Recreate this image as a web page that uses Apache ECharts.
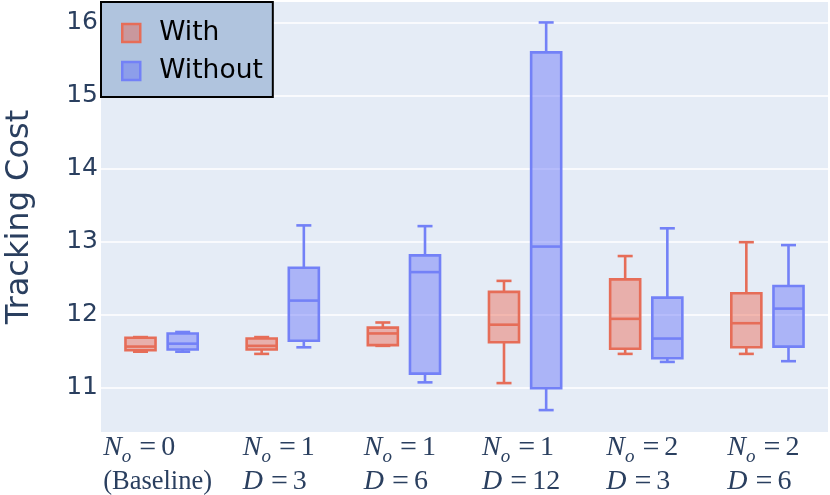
<!DOCTYPE html>
<html>
<head>
<meta charset="utf-8">
<script src="https://cdn.jsdelivr.net/npm/echarts@6/dist/echarts.min.js"></script>
<style>
html,body{margin:0;padding:0;background:#fff;}
#chart{width:830px;height:495px;}
</style>
</head>
<body>
<div id="chart"></div>
<script>
// Categories: N_o value and D value (null = baseline)
const categories = ['No=0 Baseline', 'No=1 D=3', 'No=1 D=6', 'No=1 D=12', 'No=2 D=3', 'No=2 D=6'];
const noValues = [0, 1, 1, 1, 2, 2];
const dValues = [null, 3, 6, 12, 3, 6];
const baselineText = '(Baseline)';

// Box stats per category: [min, q1, median, q3, max]
const withStats = [
  [11.49, 11.51, 11.56, 11.68, 11.69],
  [11.46, 11.52, 11.57, 11.67, 11.69],
  [11.57, 11.58, 11.74, 11.82, 11.89],
  [11.06, 11.62, 11.86, 12.31, 12.46],
  [11.46, 11.53, 11.94, 12.48, 12.80],
  [11.46, 11.55, 11.88, 12.29, 12.99]
];
const withoutStats = [
  [11.49, 11.52, 11.60, 11.74, 11.76],
  [11.55, 11.64, 12.19, 12.64, 13.22],
  [11.07, 11.19, 12.58, 12.81, 13.21],
  [10.69, 10.99, 12.93, 15.59, 16.00],
  [11.35, 11.40, 11.67, 12.23, 13.18],
  [11.36, 11.56, 12.08, 12.39, 12.95]
];

const seriesNames = ['With', 'Without'];
const lineColors = ['#E66D58', '#7381F7'];
const fillColors = ['rgba(236,90,66,0.42)', 'rgba(99,112,248,0.45)'];
const TEXT = '#2a3f5f';
const LW = 2.6;

function makeRender(offsetFrac, lineColor, fillColor) {
  return function (params, api) {
    const idx = api.value(0);
    const bw = api.size([1, 0])[0];
    const cx = api.coord([idx, api.value(3)])[0] + offsetFrac * bw;
    const half = 0.124 * bw;
    const capHalf = half / 2;
    const y = v => api.coord([idx, v])[1];
    const yMin = y(api.value(1)), yQ1 = y(api.value(2)), yMed = y(api.value(3)),
          yQ3 = y(api.value(4)), yMax = y(api.value(5));
    const ls = { stroke: lineColor, lineWidth: LW, fill: null };
    return {
      type: 'group',
      children: [
        { type: 'rect', shape: { x: cx - half, y: yQ3, width: 2 * half, height: yQ1 - yQ3 },
          style: { fill: fillColor, stroke: lineColor, lineWidth: LW } },
        { type: 'line', shape: { x1: cx - half, y1: yMed, x2: cx + half, y2: yMed }, style: ls },
        { type: 'line', shape: { x1: cx, y1: yQ3, x2: cx, y2: yMax }, style: ls },
        { type: 'line', shape: { x1: cx, y1: yQ1, x2: cx, y2: yMin }, style: ls },
        { type: 'line', shape: { x1: cx - capHalf, y1: yMax, x2: cx + capHalf, y2: yMax }, style: ls },
        { type: 'line', shape: { x1: cx - capHalf, y1: yMin, x2: cx + capHalf, y2: yMin }, style: ls }
      ]
    };
  };
}

function toData(stats) {
  return stats.map((s, i) => [i].concat(s));
}

const chart = echarts.init(document.getElementById('chart'), null, { renderer: 'canvas' });

const mathFont = '"Liberation Serif", "DejaVu Serif", serif';
const labelRich = {
  N: { fontFamily: mathFont, fontStyle: 'italic', fontSize: 28, color: TEXT, align: 'left', lineHeight: 34 },
  sub: { fontFamily: mathFont, fontStyle: 'italic', fontSize: 19, color: TEXT, align: 'left', lineHeight: 34, padding: [18, 0, 0, 0] },
  op: { fontFamily: mathFont, fontSize: 30, color: TEXT, align: 'left', lineHeight: 34, padding: [0, 5, 0, 8] },
  eq: { fontFamily: mathFont, fontSize: 28, color: TEXT, align: 'left', lineHeight: 34 },
  txt: { fontFamily: mathFont, fontSize: 26.5, color: TEXT, align: 'left', lineHeight: 34 }
};

chart.setOption({
  animation: false,
  backgroundColor: '#ffffff',
  grid: {
    left: 101, right: 2, top: 2, bottom: 63,
    outerBoundsMode: 'none',
    containLabel: false,
    show: true, backgroundColor: '#E5ECF6', borderWidth: 0
  },
  legend: {
    left: 101, top: 2,
    orient: 'vertical',
    backgroundColor: '#B0C4DE',
    borderColor: '#000000',
    borderWidth: 2,
    padding: [17, 10, 12, 20],
    itemWidth: 18, itemHeight: 18, itemGap: 10,
    selectedMode: false,
    icon: 'rect',
    formatter: name => '{s|}' + name,
    textStyle: {
      fontFamily: '"DejaVu Sans", sans-serif', fontSize: 26.5, color: '#000000', lineHeight: 28,
      rich: { s: { width: 14 } }
    },
    data: seriesNames.map((n, i) => ({
      name: n,
      itemStyle: { color: fillColors[i], borderColor: lineColors[i], borderWidth: 2.5 }
    }))
  },
  xAxis: {
    type: 'category',
    data: categories,
    axisLine: { show: false },
    axisTick: { show: false },
    splitLine: { show: false },
    axisLabel: {
      interval: 0,
      margin: -1,
      padding: [0, 8, 0, 0],
      formatter: function (value, index) {
        const l1 = '{N|N}{sub|o}{op|=}{eq|' + noValues[index] + '}';
        const l2 = dValues[index] === null ? '{txt|' + baselineText + '}' : '{N|D}{op|=}{eq|' + dValues[index] + '}';
        return l1 + '\n' + l2;
      },
      rich: labelRich
    }
  },
  yAxis: {
    type: 'value',
    min: 10.39,
    max: 16.28,
    splitNumber: 5,
    name: 'Tracking Cost',
    nameLocation: 'middle',
    nameGap: 65,
    nameTextStyle: { fontFamily: '"DejaVu Sans", sans-serif', fontSize: 32, color: TEXT },
    axisLine: { show: false },
    axisTick: { show: false },
    axisLabel: {
      fontFamily: '"DejaVu Sans", sans-serif', fontSize: 25, color: TEXT, margin: 3,
      showMinLabel: false, showMaxLabel: false
    },
    splitLine: { show: true, showMinLine: false, showMaxLine: false, lineStyle: { color: '#ffffff', width: 1.5 } }
  },
  series: [
    {
      name: seriesNames[0], type: 'custom',
      renderItem: makeRender(-0.174, lineColors[0], fillColors[0]),
      itemStyle: { color: lineColors[0] },
      encode: { x: 0, y: [1, 2, 3, 4, 5] },
      data: toData(withStats), z: 3
    },
    {
      name: seriesNames[1], type: 'custom',
      renderItem: makeRender(0.174, lineColors[1], fillColors[1]),
      itemStyle: { color: lineColors[1] },
      encode: { x: 0, y: [1, 2, 3, 4, 5] },
      data: toData(withoutStats), z: 3
    }
  ]
});
</script>
</body>
</html>
